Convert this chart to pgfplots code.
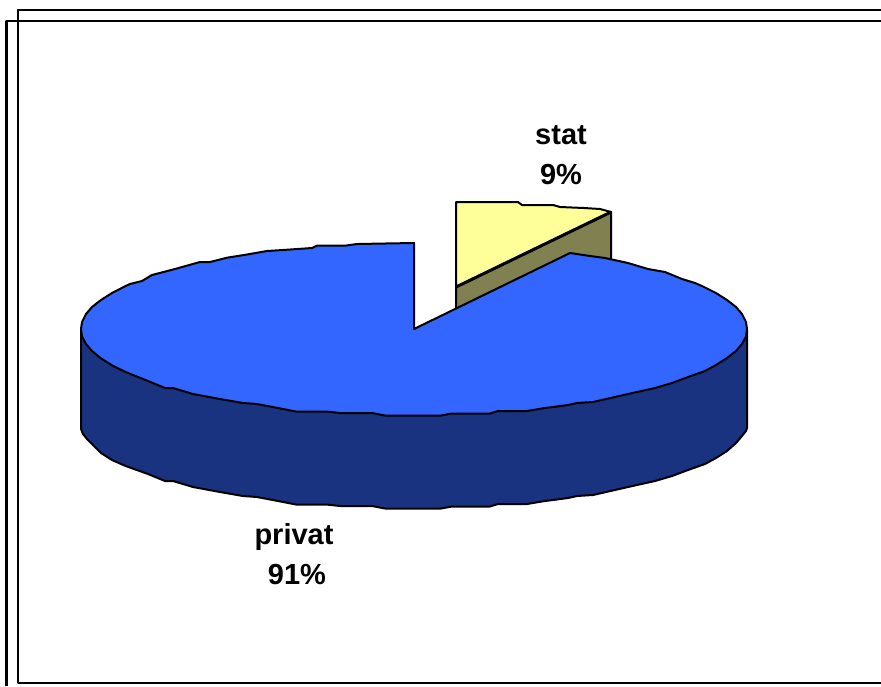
\documentclass[border=0pt]{standalone}
\usepackage{pgfplots}
\pgfplotsset{compat=1.18}
\usepackage{fontspec}
\setmainfont{Liberation Sans}
\definecolor{pieblue}{HTML}{3366FF}
\definecolor{piedark}{HTML}{193380}
\definecolor{pieyellow}{HTML}{FFFF99}
\definecolor{piekhaki}{HTML}{808050}
\begin{document}
\begin{tikzpicture}
\begin{axis}[
scale only axis,
width=881pt,
height=686pt,
xmin=0, xmax=881,
ymin=0, ymax=686,
y dir=reverse,
hide axis,
every axis plot/.append style={mark=none, line join=round},
]
% keeps the page as large as the axis, hide axis leaves it out of the bounding box
\addplot[draw=none] coordinates {(0,0) (881,686)};

% frames, both run off the page
\addplot[black, line width=2.2pt] coordinates {(881,10) (18,10) (18,683) (881,683)};
\addplot[black, line width=2.2pt] coordinates {(881,21) (6.5,21) (6.5,686)};

% side wall of the big slice
\addplot[fill=piedark, draw=black, line width=2pt] coordinates {
(81,329) (81,429) (83,434) (87,439) (92,444) (101,453) (112,460) (125.6,466) (148,474) (165,481)
(173,481) (193,487) (220,492) (243,496) (257,497) (278,501) (297,504.7) (328,504.7) (340,506) (372,506)
(385,508.5) (441,508.5) (452,506.5) (490,506.5) (498,504) (527,504) (545,501) (553,500) (568,498)
(577,496) (593,495) (628,487) (655,481) (672,476) (688,470) (705,464) (716,458) (727,451) (736,443)
(742,436) (746,431) (747,428) (747,329)
} --cycle;

% stat slice, wall and top
\addplot[fill=piekhaki, draw=black, line width=2pt] coordinates {
(456,287) (611,212) (611,265) (456,310)
} --cycle;
\addplot[fill=pieyellow, draw=black, line width=2pt] coordinates {
(456,287) (456,202) (518,202) (522,205) (553,205) (560,207) (584,208) (600,209) (611,212)
} --cycle;
\addplot[black, line width=3pt] coordinates {(456,287) (611,212)};

% top of the big slice
\addplot[fill=pieblue, draw=black, line width=2pt] coordinates {
(414,329) (414,243) (357,244) (345,245.7) (317,245.7) (312,248) (283,250) (267,251) (247,254.5) (227,257.7)
(210,262) (200,262) (175,269) (152,275) (142,281) (130,284) (125.6,286) (112,293) (101,300) (92,307)
(86,314) (82,322) (81,329) (82,336.5) (86,344) (92,351) (101,358.4) (112,365.3) (125.6,372) (148,381)
(165,388) (173,388) (193,394) (220,399) (243,403) (257,404) (278,408) (297,411.7) (328,411.7) (340,413)
(372,413) (385,415.5) (441,415.5) (452,413.5) (490,413.5) (498,411) (527,411) (545,408) (553,407)
(568,405) (577,403) (593,402) (628,394) (655,388) (672,383) (688,377) (705,371) (716,365) (727,358)
(736,351) (742,344) (746,336.5) (747,329) (746,322) (742,314) (736,307) (727,300) (716,293) (702,286)
(695,283) (682,279) (665,272) (648,269) (628,263) (605,258) (590,256) (570,253)
} --cycle;

\node[font=\fontsize{29}{34}\selectfont\bfseries, anchor=base] at (axis cs:561,144) {stat};
\node[font=\fontsize{29}{34}\selectfont\bfseries, anchor=base] at (axis cs:561,184) {9\%};
\node[font=\fontsize{29}{34}\selectfont\bfseries, anchor=base] at (axis cs:294,544) {privat};
\node[font=\fontsize{29}{34}\selectfont\bfseries, anchor=base] at (axis cs:297,584) {91\%};
\end{axis}
\end{tikzpicture}
\end{document}
